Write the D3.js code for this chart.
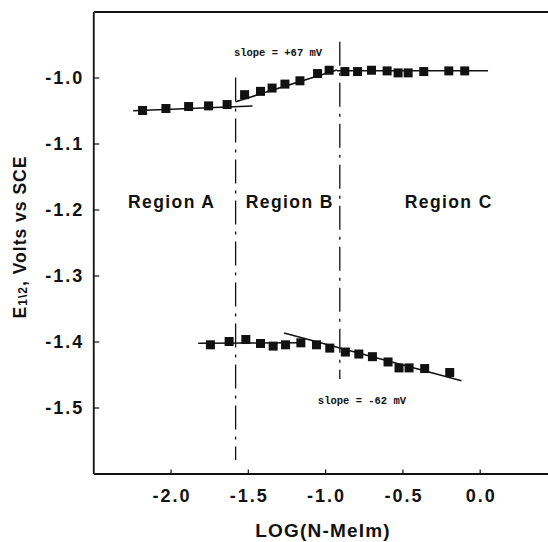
<!DOCTYPE html>
<html>
<head>
<meta charset="utf-8">
<script src="https://cdn.jsdelivr.net/npm/d3@7"></script>
<style>
  html, body { margin: 0; padding: 0; background: #fff; }
  svg { display: block; }
  .lbl { font-family: "Liberation Sans", Arial, sans-serif; font-weight: bold; fill: #111; }
  .note { font-family: "Liberation Mono", "DejaVu Sans Mono", monospace; font-weight: bold; fill: #111; }
</style>
</head>
<body>
<svg id="chart" width="548" height="542"></svg>
<script>
// Half-wave potentials (V vs SCE) against log of N-methylimidazole concentration
const upperLog = [-2.181, -2.030, -1.883, -1.754, -1.634, -1.521, -1.418, -1.343, -1.260, -1.163,
                  -1.049, -0.974, -0.872, -0.790, -0.700, -0.599, -0.528, -0.463, -0.362, -0.200, -0.097];
const upperE   = [-1.050, -1.047, -1.044, -1.043, -1.041, -1.026, -1.021, -1.016, -1.010, -1.005,
                  -0.994, -0.989, -0.991, -0.991, -0.989, -0.990, -0.993, -0.993, -0.991, -0.990, -0.990];

const lowerLog = [-1.742, -1.621, -1.513, -1.418, -1.336, -1.256, -1.157, -1.056, -0.970, -0.869,
                  -0.782, -0.694, -0.593, -0.522, -0.457, -0.356, -0.194];
const lowerE   = [-1.405, -1.400, -1.397, -1.403, -1.407, -1.405, -1.402, -1.405, -1.410, -1.416,
                  -1.419, -1.423, -1.431, -1.440, -1.440, -1.441, -1.447];

// Straight-line fits drawn through each region: [[log1, E1], [log2, E2]]
const fitLines = [
  [[-2.242, -1.0503], [-1.470, -1.0432]],
  [[-1.579, -1.0367], [-0.924, -0.9886]],
  [[-0.924, -0.9897], [ 0.054, -0.9897]],
  [[-1.821, -1.4027], [-1.163, -1.4020]],
  [[-1.265, -1.3871], [-0.118, -1.4594]]
];

// Region boundaries (dash-dot verticals)
const boundaryLog    = [-1.579, -0.905];
const boundaryTop    = [-1.000, -0.946];
const boundaryBottom = [-1.5795, -1.4568];

// Region names and where they start
const regionNames = ["Region A", "Region B", "Region C"];
const regionLog   = [-2.275, -1.513, -0.485];
const regionE     = -1.197;

// Slope annotations
const slopeTexts = ["slope = +67 mV", "slope = -62 mV"];
const slopeLog   = [-1.590, -1.047];
const slopeE     = [-0.9667, -1.494];

// Axis ticks
const xTicks = [-2.0, -1.5, -1.0, -0.5, 0.0];
const xTickLabels = ["-2.0", "-1.5", "-1.0", "-0.5", "0.0"];
const yTicks = [-1.0, -1.1, -1.2, -1.3, -1.4, -1.5];
const yTickLabels = ["-1.0", "-1.1", "-1.2", "-1.3", "-1.4", "-1.5"];

const svg = d3.select("#chart");
const x = d3.scaleLinear().domain([-2.5, 0.5]).range([93.25, 557]);
const y = d3.scaleLinear().domain([-1.6, -0.9]).range([473.5, 11.5]);

// Frame: bottom axis, left axis, top edge
const xAxis = d3.axisBottom(x).tickValues(xTicks).tickSizeInner(-4).tickSizeOuter(0)
  .tickPadding(14).tickFormat((d, i) => xTickLabels[i]);
const gx = svg.append("g").attr("transform", `translate(0,${y(-1.6)})`).call(xAxis);

const yAxis = d3.axisLeft(y).tickValues(yTicks).tickSizeInner(-6).tickSizeOuter(0)
  .tickPadding(9).tickFormat((d, i) => yTickLabels[i]);
const gy = svg.append("g").attr("transform", `translate(${x(-2.5)},0)`).call(yAxis);

const gTop = svg.append("g").attr("transform", `translate(0,${y(-0.9)})`)
  .call(d3.axisTop(x).tickValues([]).tickSizeOuter(0));

svg.selectAll("g").attr("font-family", null).attr("font-size", null);
[gx, gy, gTop].forEach(g => {
  g.select(".domain").attr("stroke", "#111").attr("stroke-width", 1.8);
  g.selectAll(".tick line").attr("stroke", "#111").attr("stroke-width", 1.2);
});
gx.selectAll(".tick text").attr("class", "lbl").attr("font-size", 18).attr("letter-spacing", 2)
  .attr("dx", 1).attr("y", 16).attr("dy", "0.71em");
gy.selectAll(".tick text").attr("class", "lbl").attr("font-size", 18).attr("letter-spacing", 2)
  .attr("dy", "0.36em");

// Region boundaries
svg.append("g").selectAll("line").data(boundaryLog).join("line")
  .attr("x1", d => x(d)).attr("x2", d => x(d))
  .attr("y1", (d, i) => y(boundaryTop[i])).attr("y2", (d, i) => y(boundaryBottom[i]))
  .attr("stroke", "#111").attr("stroke-width", 1.3)
  .attr("stroke-dasharray", "24,7,3,7");

// Fitted lines
svg.append("g").selectAll("line").data(fitLines).join("line")
  .attr("x1", d => x(d[0][0])).attr("y1", d => y(d[0][1]))
  .attr("x2", d => x(d[1][0])).attr("y2", d => y(d[1][1]))
  .attr("stroke", "#111").attr("stroke-width", 1.6);

// Square markers
const m = 9;
function markers(xs, ys) {
  svg.append("g").selectAll("rect").data(xs).join("rect")
    .attr("x", d => x(d) - m / 2)
    .attr("y", (d, i) => y(ys[i]) - m / 2)
    .attr("width", m).attr("height", m)
    .attr("fill", "#111");
}
markers(upperLog, upperE);
markers(lowerLog, lowerE);

// Region labels
svg.append("g").selectAll("text").data(regionNames).join("text")
  .attr("class", "lbl").attr("font-size", 17.5).attr("letter-spacing", 1.4)
  .attr("x", (d, i) => x(regionLog[i])).attr("y", y(regionE))
  .text(d => d);

// Slope notes
svg.append("g").selectAll("text").data(slopeTexts).join("text")
  .attr("class", "note").attr("font-size", 10.5)
  .attr("x", (d, i) => x(slopeLog[i])).attr("y", (d, i) => y(slopeE[i]))
  .text(d => d);

// Axis titles
svg.append("text").attr("class", "lbl").attr("font-size", 19).attr("letter-spacing", 1.2)
  .attr("text-anchor", "middle").attr("x", 323).attr("y", 537)
  .text("LOG(N-MeIm)");

const yt = svg.append("text").attr("class", "lbl").attr("font-size", 17.5).attr("letter-spacing", 1)
  .attr("text-anchor", "middle")
  .attr("transform", "translate(26,237) rotate(-90)");
yt.append("tspan").text("E");
yt.append("tspan").attr("font-size", 12).attr("dy", 1).text("1\\2");
yt.append("tspan").attr("dy", -1).text(", Volts vs SCE");
</script>
</body>
</html>
